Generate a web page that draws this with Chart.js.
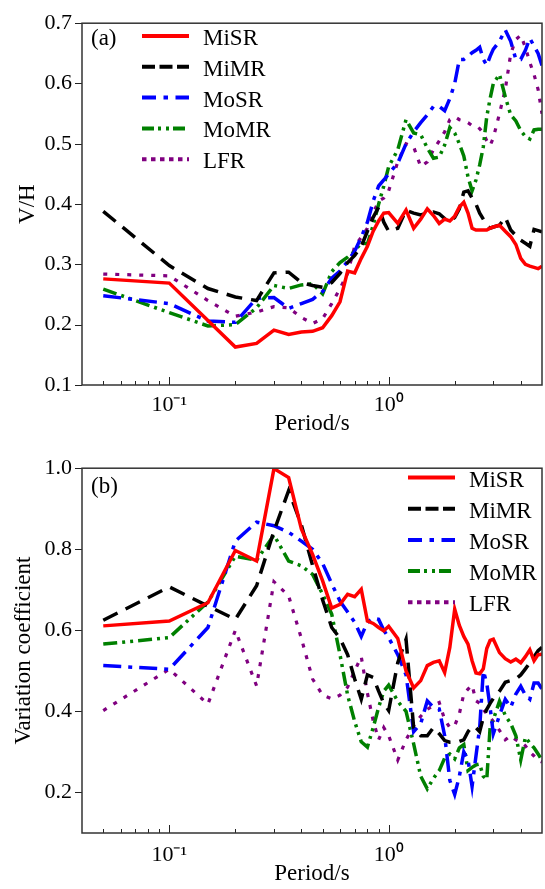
<!DOCTYPE html>
<html>
<head>
<meta charset="utf-8">
<script src="https://cdn.jsdelivr.net/npm/chart.js@4.4.0/dist/chart.umd.min.js"></script>
<style>
  html, body { margin: 0; padding: 0; background: #fff; }
  #wrap { position: relative; width: 545px; height: 889px; }
  canvas { position: absolute; left: 0; }
  #chartA { top: 0; }
  #chartB { top: 445px; }
</style>
</head>
<body>
<div id="wrap">
  <canvas id="chartA" width="545" height="445"></canvas>
  <canvas id="chartB" width="545" height="444"></canvas>
</div>
<script>
// periods (s) shared by every curve
const periods = [0.05, 0.1, 0.15, 0.2, 0.25, 0.3, 0.35, 0.4, 0.45, 0.5,
  0.55, 0.6, 0.65, 0.7, 0.75, 0.8, 0.85, 0.9, 0.95, 1.0,
  1.1, 1.2, 1.3, 1.4, 1.5, 1.6, 1.7, 1.8, 1.9, 2.0,
  2.1, 2.2, 2.3, 2.4, 2.5, 2.6, 2.7, 2.8, 2.9, 3.0,
  3.2, 3.4, 3.6, 3.8, 4.0, 4.2, 4.4, 4.6, 4.8, 5.0];

const seriesNames = ["MiSR", "MiMR", "MoSR", "MoMR", "LFR"];

// (a) V/H
const vhMiSR = [0.276, 0.269, 0.207, 0.163, 0.169, 0.191, 0.184, 0.188, 0.189, 0.195,
  0.215, 0.238, 0.289, 0.286, 0.31, 0.33, 0.355, 0.372, 0.385, 0.386,
  0.368, 0.39, 0.36, 0.375, 0.392, 0.381, 0.368, 0.375, 0.372, 0.38,
  0.395, 0.403, 0.385, 0.36, 0.357, 0.357, 0.357, 0.357, 0.36, 0.362,
  0.365, 0.355, 0.346, 0.333, 0.31, 0.30, 0.297, 0.295, 0.293, 0.297];
const vhMiMR = [0.388, 0.298, 0.26, 0.246, 0.24, 0.286, 0.287, 0.27, 0.265, 0.262,
  0.27, 0.285, 0.303, 0.315, 0.33, 0.355, 0.378, 0.395, 0.37, 0.355,
  0.36, 0.39, 0.385, 0.382, 0.385, 0.387, 0.384, 0.376, 0.37, 0.378,
  0.392, 0.42, 0.422, 0.41, 0.40, 0.385, 0.375, 0.365, 0.36, 0.362,
  0.365, 0.378, 0.357, 0.348, 0.34, 0.335, 0.33, 0.358, 0.356, 0.354];
const vhMoSR = [0.248, 0.235, 0.206, 0.204, 0.244, 0.245, 0.227, 0.235, 0.242, 0.255,
  0.277, 0.289, 0.305, 0.322, 0.345, 0.37, 0.405, 0.43, 0.44, 0.45,
  0.468, 0.50, 0.52, 0.535, 0.548, 0.562, 0.562, 0.555, 0.575, 0.60,
  0.64, 0.64, 0.645, 0.651, 0.655, 0.66, 0.64, 0.63, 0.645, 0.657,
  0.67, 0.689, 0.67, 0.64, 0.64, 0.655, 0.675, 0.662, 0.65, 0.63];
const vhMoMR = [0.259, 0.22, 0.198, 0.2, 0.228, 0.265, 0.26, 0.266, 0.268, 0.251,
  0.288, 0.303, 0.312, 0.322, 0.336, 0.334, 0.365, 0.40, 0.43, 0.462,
  0.49, 0.54, 0.518, 0.515, 0.493, 0.476, 0.478, 0.498, 0.527, 0.518,
  0.50, 0.48, 0.445, 0.422, 0.44, 0.465, 0.495, 0.545, 0.575, 0.60,
  0.615, 0.578, 0.548, 0.538, 0.522, 0.512, 0.508, 0.523, 0.524, 0.524];
const vhLFR = [0.284, 0.281, 0.24, 0.214, 0.221, 0.23, 0.228, 0.212, 0.202, 0.21,
  0.235, 0.26, 0.285, 0.33, 0.345, 0.36, 0.385, 0.405, 0.41, 0.422,
  0.47, 0.5, 0.495, 0.462, 0.47, 0.49, 0.505, 0.52, 0.54, 0.545,
  0.54, 0.538, 0.535, 0.53, 0.53, 0.525, 0.518, 0.505, 0.497, 0.51,
  0.55, 0.59, 0.649, 0.673, 0.68, 0.66, 0.635, 0.615, 0.59, 0.55];

// (b) variation coefficient
const cvMiSR = [0.611, 0.623, 0.668, 0.797, 0.771, 0.999, 0.977, 0.85, 0.787, 0.722,
  0.655, 0.664, 0.689, 0.683, 0.701, 0.623, 0.617, 0.607, 0.599, 0.61,
  0.58, 0.5, 0.458, 0.476, 0.513, 0.521, 0.525, 0.496, 0.558, 0.652,
  0.612, 0.585, 0.566, 0.525, 0.495, 0.493, 0.505, 0.555, 0.575, 0.578,
  0.545, 0.53, 0.522, 0.529, 0.52, 0.535, 0.552, 0.525, 0.54, 0.541];
const cvMiMR = [0.625, 0.707, 0.66, 0.627, 0.71, 0.845, 0.945, 0.86, 0.76, 0.675,
  0.607, 0.58, 0.54, 0.48, 0.43, 0.49, 0.484, 0.45, 0.42, 0.402,
  0.52, 0.578, 0.36, 0.34, 0.34, 0.36, 0.345, 0.328, 0.324, 0.324,
  0.326, 0.33, 0.35, 0.363, 0.36, 0.35, 0.385, 0.405, 0.42, 0.432,
  0.45, 0.472, 0.476, 0.48, 0.49, 0.505, 0.52, 0.535, 0.55, 0.558];
const cvMoSR = [0.513, 0.504, 0.607, 0.82, 0.867, 0.858, 0.842, 0.82, 0.80, 0.765,
  0.715, 0.672, 0.645, 0.62, 0.585, 0.62, 0.63, 0.627, 0.60, 0.582,
  0.54, 0.49, 0.35, 0.37, 0.426, 0.41, 0.406, 0.34, 0.23, 0.195,
  0.24, 0.30, 0.28, 0.215, 0.29, 0.36, 0.50, 0.47, 0.41, 0.345,
  0.39, 0.43, 0.41, 0.443, 0.462, 0.44, 0.43, 0.47, 0.47, 0.455];
const cvMoMR = [0.566, 0.582, 0.67, 0.783, 0.773, 0.835, 0.771, 0.759, 0.738, 0.689,
  0.64, 0.54, 0.44, 0.375, 0.325, 0.312, 0.36, 0.41, 0.45, 0.465,
  0.425, 0.40, 0.32, 0.24, 0.209, 0.235, 0.254, 0.285, 0.295, 0.283,
  0.31, 0.318, 0.254, 0.262, 0.268, 0.27, 0.24, 0.232, 0.36, 0.38,
  0.425, 0.39, 0.37, 0.34, 0.28, 0.336, 0.322, 0.31, 0.295, 0.279];
const cvLFR = [0.402, 0.504, 0.418, 0.6, 0.463, 0.72, 0.685, 0.58, 0.48, 0.44,
  0.431, 0.44, 0.46, 0.50, 0.535, 0.445, 0.377, 0.33, 0.36, 0.34,
  0.28, 0.33, 0.365, 0.388, 0.405, 0.415, 0.422, 0.38, 0.36, 0.365,
  0.394, 0.443, 0.455, 0.465, 0.426, 0.42, 0.405, 0.394, 0.385, 0.375,
  0.353, 0.33, 0.34, 0.33, 0.325, 0.315, 0.30, 0.29, 0.279, 0.275];

// axis ticks
const xMajorTicks = [0.1, 1];
const xMinorTicks = [0.05, 0.06, 0.07, 0.08, 0.09, 0.2, 0.3, 0.4, 0.5, 0.6, 0.7, 0.8, 0.9, 2, 3, 4];
const vhTicks = [0.1, 0.2, 0.3, 0.4, 0.5, 0.6, 0.7];
const cvTicks = [0.2, 0.4, 0.6, 0.8, 1.0];

// line looks, same order as seriesNames
const lineColors = ["#ff0000", "#000000", "#0000ff", "#008000", "#800080"];
const lineDashes = [[], [16, 9], [18, 7, 4, 7], [14, 5, 3, 5, 3, 5], [4, 8]];
const legendDashes = [[], [13, 4.5], [14, 7.5, 4.5, 7.5], [12, 4, 3, 5, 3, 4], [4.5, 4.5]];
const lineWidths = [3.5, 3.5, 3.5, 3.5, 3.2];

const FONT = "'Liberation Serif', 'Times New Roman', serif";

function buildDatasets(valueLists) {
  return valueLists.map((vals, k) => ({
    label: seriesNames[k],
    data: periods.map((p, i) => ({ x: p, y: vals[i] })),
    borderColor: lineColors[k],
    borderDash: lineDashes[k],
    borderWidth: lineWidths[k],
    pointRadius: 0,
    tension: 0,
    fill: false,
  }));
}

const framePlugin = {
  id: "frame",
  afterDatasetsDraw(chart, args, opts) {
    const { ctx, chartArea: a } = chart;
    const xs = chart.scales.x;
    const ys = chart.scales.y;
    ctx.save();
    ctx.strokeStyle = "#222";
    ctx.lineWidth = 1;
    ctx.setLineDash([]);
    xMinorTicks.forEach((v) => {
      const px = Math.round(xs.getPixelForValue(v)) + 0.5;
      ctx.beginPath();
      ctx.moveTo(px, a.bottom);
      ctx.lineTo(px, a.bottom - 4);
      ctx.stroke();
    });
    xMajorTicks.forEach((v) => {
      const px = Math.round(xs.getPixelForValue(v)) + 0.5;
      ctx.beginPath();
      ctx.moveTo(px, a.bottom);
      ctx.lineTo(px, a.bottom - 8);
      ctx.stroke();
    });
    ys.ticks.forEach((t) => {
      const py = Math.round(ys.getPixelForValue(t.value)) + 0.5;
      ctx.beginPath();
      ctx.moveTo(a.left - 7, py);
      ctx.lineTo(a.left, py);
      ctx.stroke();
    });
    ctx.lineWidth = 1.5;
    ctx.strokeStyle = "#333";
    ctx.strokeRect(a.left, a.top, a.right - a.left, a.bottom - a.top);

    // legend
    ctx.font = "23px " + FONT;
    ctx.fillStyle = "#000";
    ctx.textBaseline = "middle";
    ctx.textAlign = "left";
    chart.data.datasets.forEach((ds, i) => {
      const y = opts.legendY + i * opts.rowGap;
      ctx.beginPath();
      ctx.setLineDash(legendDashes[i]);
      ctx.strokeStyle = ds.borderColor;
      ctx.lineWidth = 4;
      ctx.moveTo(opts.legendX, y);
      ctx.lineTo(opts.legendX + 47, y);
      ctx.stroke();
      ctx.setLineDash([]);
      ctx.fillText(ds.label, opts.legendX + 61, y + 3);
    });
    ctx.fillText(opts.tag, opts.tagX, opts.tagY);
    ctx.restore();
  },
};

function makeChart(id, valueLists, cfg) {
  return new Chart(document.getElementById(id), {
    type: "line",
    data: { datasets: buildDatasets(valueLists) },
    options: {
      responsive: false,
      animation: false,
      events: [],
      layout: { padding: { top: cfg.padTop, right: 3, left: 0, bottom: 0 } },
      plugins: {
        legend: { display: false },
        tooltip: { enabled: false },
        frame: cfg.frame,
      },
      scales: {
        x: {
          type: "logarithmic",
          min: 0.04,
          max: 5,
          afterBuildTicks: (scale) => {
            scale.ticks = xMinorTicks.concat(xMajorTicks)
              .sort((p, q) => p - q)
              .map((v) => ({ value: v }));
          },
          afterFit: (scale) => { scale.height = cfg.xAxisHeight; },
          grid: { display: false, drawTicks: false },
          border: { display: false },
          ticks: {
            autoSkip: false,
            maxRotation: 0,
            padding: cfg.xTickPad,
            color: "#000",
            font: { family: FONT, size: 22 },
            callback: (v) => (v === 0.1 ? "10\u207B\u00B9" : v === 1 ? "10\u2070" : ""),
          },
          title: {
            display: true,
            text: "Period/s",
            color: "#000",
            font: { family: FONT, size: 23 },
            padding: { top: 0, bottom: cfg.xTitlePad },
          },
        },
        y: {
          min: cfg.yMin,
          max: cfg.yMax,
          afterBuildTicks: (scale) => {
            scale.ticks = cfg.yTicks.map((v) => ({ value: v }));
          },
          afterFit: (scale) => { scale.width = 82; },
          grid: { display: false, drawTicks: false },
          border: { display: false },
          ticks: {
            padding: 10,
            color: "#000",
            font: { family: FONT, size: 22 },
            callback: (v) => v.toFixed(1),
          },
          title: {
            display: true,
            text: cfg.yTitle,
            color: "#000",
            font: { family: FONT, size: 23 },
            padding: { top: cfg.yTitlePad, bottom: 0 },
          },
        },
      },
    },
    plugins: [framePlugin],
  });
}

makeChart("chartA", [vhMiSR, vhMiMR, vhMoSR, vhMoMR, vhLFR], {
  padTop: 16,
  xAxisHeight: 60,
  xTickPad: 7.5,
  xTitlePad: 7,
  yMin: 0.1,
  yMax: 0.7,
  yTicks: vhTicks,
  yTitle: "V/H",
  yTitlePad: 14,
  frame: { legendX: 142, legendY: 36, rowGap: 30.8, tag: "(a)", tagX: 91, tagY: 39 },
});

makeChart("chartB", [cvMiSR, cvMiMR, cvMoSR, cvMoMR, cvLFR], {
  padTop: 21,
  xAxisHeight: 56,
  xTickPad: 9,
  xTitlePad: 1,
  yMin: 0.1,
  yMax: 1.0,
  yTicks: cvTicks,
  yTitle: "Variation coefficient",
  yTitlePad: 10,
  frame: { legendX: 408, legendY: 32.5, rowGap: 31.2, tag: "(b)", tagX: 91, tagY: 42 },
});
</script>
</body>
</html>
